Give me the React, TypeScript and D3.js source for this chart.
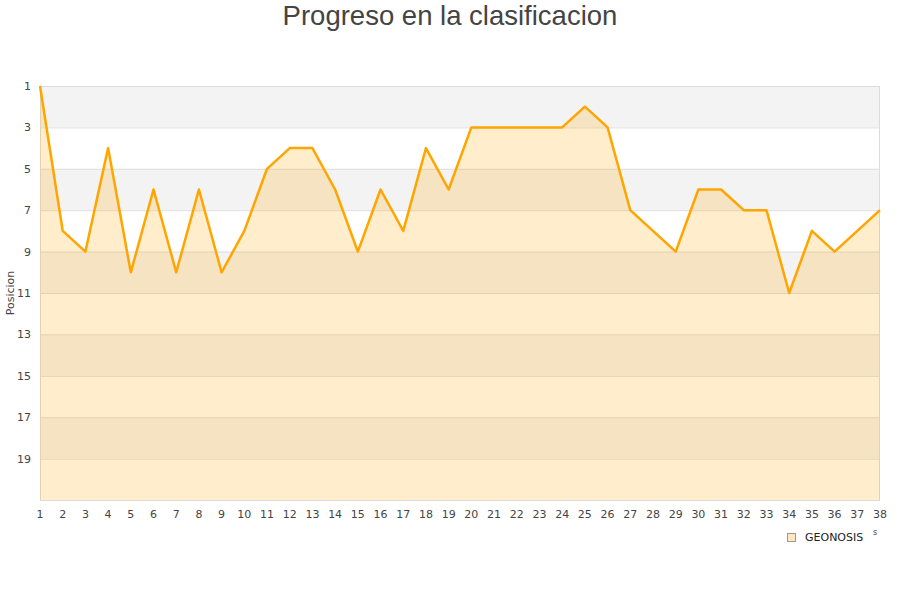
import React, {useEffect, useRef} from 'react';
import * as d3 from 'd3';

// jornadas 1..38
const rounds: number[] = d3.range(1, 39);
// posicion de GEONOSIS por jornada
const positions: number[] = [
    1, 8, 9, 4, 10, 6, 10, 6, 10, 8,
    5, 4, 4, 6, 9, 6, 8, 4, 6, 3,
    3, 3, 3, 3, 2, 3, 7, 8, 9, 6,
    6, 7, 7, 11, 8, 9, 8, 7
];
const yTicks: number[] = [1, 3, 5, 7, 9, 11, 13, 15, 17, 19];
const seriesName = 'GEONOSIS';
const chartTitle = 'Progreso en la clasificacion';
const yTitle = 'Posicion';

const W = 900;
const H = 600;
const margin = {top: 86, right: 20, bottom: 100, left: 40};

export default function App() {
    const ref = useRef<SVGSVGElement>(null);

    useEffect(() => {
        const svg = d3.select(ref.current);
        svg.selectAll('*').remove();

        const width = W - margin.left - margin.right;
        const height = H - margin.top - margin.bottom;

        const x = d3.scaleLinear().domain([1, 38]).range([margin.left, margin.left + width]);
        const y = d3.scaleLinear().domain([1, 21]).range([margin.top, margin.top + height]);

        //title
        svg.append('text')
            .attr('x', W / 2)
            .attr('y', 25)
            .attr('text-anchor', 'middle')
            .attr('font-family', 'Liberation Sans, Arial, sans-serif')
            .attr('font-size', 27.5)
            .attr('fill', '#444')
            .text(chartTitle);

        //alternating bands
        const bands = d3.range(1, 21, 2);
        svg.append('g').selectAll('rect')
            .data(bands)
            .join('rect')
            .attr('x', margin.left)
            .attr('width', width)
            .attr('y', d => y(d))
            .attr('height', d => y(d + 2) - y(d))
            .attr('fill', (d, i) => i % 2 === 0 ? '#f3f3f3' : '#ffffff');

        //grid
        svg.append('g').selectAll('line')
            .data(yTicks)
            .join('line')
            .attr('x1', margin.left)
            .attr('x2', margin.left + width)
            .attr('y1', d => y(d) + 0.5)
            .attr('y2', d => y(d) + 0.5)
            .attr('stroke', '#dedede')
            .attr('stroke-width', 1);

        //frame
        svg.append('path')
            .attr('d', `M${margin.left + 0.5},${margin.top + height} V${margin.top + 0.5} H${margin.left + width - 0.5} V${margin.top + height}`)
            .attr('fill', 'none')
            .attr('stroke', '#dcdcdc');
        svg.append('line')
            .attr('x1', margin.left)
            .attr('x2', margin.left + width)
            .attr('y1', margin.top + height + 0.5)
            .attr('y2', margin.top + height + 0.5)
            .attr('stroke', '#dcdcdc');

        const pts = rounds.map((r, i) => ({r, p: positions[i]}));

        //area under line
        const area = d3.area<{r: number, p: number}>()
            .x(d => x(d.r))
            .y0(margin.top + height)
            .y1(d => y(d.p));
        svg.append('path')
            .datum(pts)
            .attr('d', area)
            .attr('fill', 'orange')
            .attr('fill-opacity', 0.2);

        const line = d3.line<{r: number, p: number}>()
            .x(d => x(d.r))
            .y(d => y(d.p));
        svg.append('path')
            .datum(pts)
            .attr('d', line)
            .attr('fill', 'none')
            .attr('stroke', '#ffa500')
            .attr('stroke-width', 2.5)
            .attr('stroke-linejoin', 'round');

        //y tick labels
        svg.append('g').selectAll('text')
            .data(yTicks)
            .join('text')
            .attr('x', margin.left - 9)
            .attr('y', d => y(d) + 4)
            .attr('text-anchor', 'end')
            .attr('font-family', 'DejaVu Sans, sans-serif')
            .attr('font-size', 11)
            .attr('fill', '#444')
            .text(d => d);

        //x tick labels
        svg.append('g').selectAll('text')
            .data(rounds)
            .join('text')
            .attr('x', d => x(d))
            .attr('y', margin.top + height + 18)
            .attr('text-anchor', 'middle')
            .attr('font-family', 'DejaVu Sans, sans-serif')
            .attr('font-size', 11)
            .attr('fill', '#444')
            .text(d => d);

        //y title
        svg.append('text')
            .attr('transform', `translate(14,${(margin.top + margin.top + height) / 2}) rotate(-90)`)
            .attr('text-anchor', 'middle')
            .attr('font-family', 'DejaVu Sans, sans-serif')
            .attr('font-size', 11)
            .attr('fill', '#444')
            .text(yTitle);

        //legend
        const lg = svg.append('g').attr('transform', 'translate(787,533)');
        lg.append('rect')
            .attr('x', 0.5)
            .attr('y', 0.5)
            .attr('width', 8)
            .attr('height', 8)
            .attr('fill', '#ffe8bf')
            .attr('stroke', '#999');
        lg.append('text')
            .attr('x', 18)
            .attr('y', 8)
            .attr('font-family', 'DejaVu Sans, sans-serif')
            .attr('font-size', 11)
            .attr('fill', '#222')
            .text(seriesName);
        // stray bits of a clipped label
        svg.append('text')
            .attr('x', 873)
            .attr('y', 535)
            .attr('font-family', 'DejaVu Sans, sans-serif')
            .attr('font-size', 8)
            .attr('fill', '#444')
            .text('s');
    }, []);

    return (
        <svg ref={ref} width={W} height={H}
             style={{position: 'absolute', left: 0, top: 0, background: '#fff'}}/>
    );
}
